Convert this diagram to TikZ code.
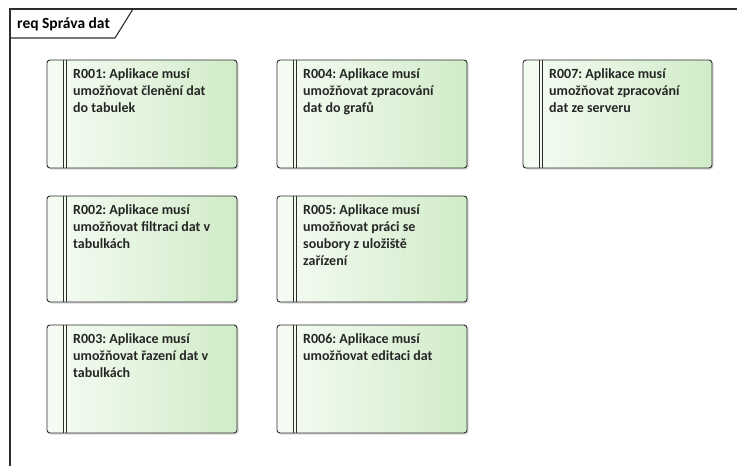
\documentclass[tikz,border=0pt]{standalone}
\usepackage{fontspec}
\setmainfont{Carlito}
\usetikzlibrary{shadows}
\definecolor{edge}{RGB}{45,45,45}
\definecolor{paleleft}{RGB}{246,252,244}
\definecolor{paleright}{RGB}{208,236,200}
\newcommand{\reqfont}{\fontsize{14}{17}\selectfont\bfseries\frenchspacing}
\tikzset{
  frameline/.style={draw=edge, line width=1.1pt},
  reqbox/.style={draw=edge, line width=0.9pt, rounded corners=3pt,
    left color=paleleft, right color=paleright,
    drop shadow={shadow xshift=1.5pt, shadow yshift=-1.5pt, opacity=0.25, fill=black!60}},
  reqtext/.style={anchor=north west, inner sep=0pt, align=left,
    font=\reqfont, text=black!85}
}
% one requirement: name, left, top, right, bottom, text
\newcommand{\reqitem}[6]{%
  \path[reqbox] (#2,#3) rectangle (#4,#5);
  \draw[edge, line width=0.8pt] (#2+16,#3) -- (#2+16,#5);
  \draw[edge, line width=0.8pt] (#2+19,#3) -- (#2+19,#5);
  \node[reqtext] (#1) at (#2+26,#3+8) {#6};
}
\begin{document}
\begin{tikzpicture}[x=1pt,y=-1pt]
\useasboundingbox (0,0) rectangle (737,466);
\fill[white] (0,0) rectangle (737,466);
% package frame
\draw[frameline] (10,466) -- (10,9) -- (737,9);
\draw[frameline] (10,38) -- (115,38) -- (133,9);
\node[anchor=west, inner sep=0pt, font=\fontsize{15.5}{18}\selectfont\bfseries] (title) at (17,24) {req Správa dat};
% requirements
\reqitem{r001}{47}{60}{237}{168}{R001: Aplikace musí\\umožňovat členění dat\\do tabulek}
\reqitem{r004}{277}{60}{467}{168}{R004: Aplikace musí\\umožňovat zpracování\\dat do grafů}
\reqitem{r007}{523}{60}{712}{168}{R007: Aplikace musí\\umožňovat zpracování\\dat ze serveru}
\reqitem{r002}{47}{196}{237}{302}{R002: Aplikace musí\\umožňovat filtraci dat v\\tabulkách}
\reqitem{r005}{277}{196}{467}{302}{R005: Aplikace musí\\umožňovat práci se\\soubory z uložiště\\zařízení}
\reqitem{r003}{47}{325}{237}{433}{R003: Aplikace musí\\umožňovat řazení dat v\\tabulkách}
\reqitem{r006}{277}{325}{467}{433}{R006: Aplikace musí\\umožňovat editaci dat}
\end{tikzpicture}
\end{document}
